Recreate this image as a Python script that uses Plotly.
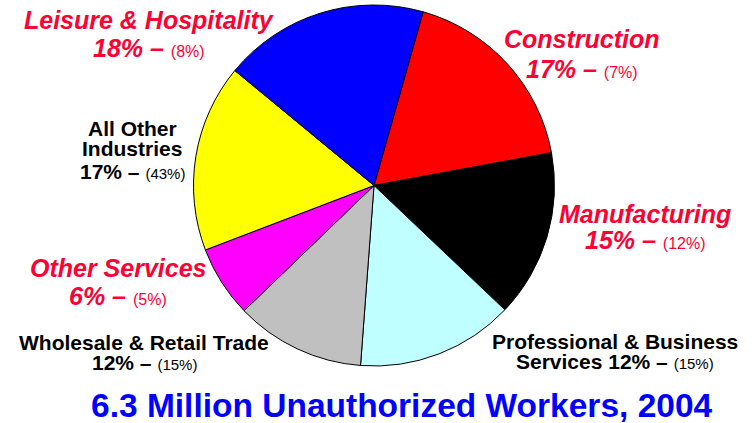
import plotly.graph_objects as go

# Data (slice shares, clockwise from the top)
industries = ["Construction", "Manufacturing", "Professional & Business Services",
              "Wholesale & Retail Trade", "Other Services", "All Other Industries",
              "Leisure & Hospitality"]
slice_share = [17.7, 15.0, 14.1, 11.6, 6.4, 16.8, 18.4]
unauth_pct = ["17%", "15%", "12%", "12%", "6%", "17%", "18%"]
all_workers_pct = ["(7%)", "(12%)", "(15%)", "(15%)", "(5%)", "(43%)", "(8%)"]
slice_colors = ["#FF0000", "#000000", "#C0FFFF", "#C0C0C0", "#FF00FF", "#FFFF00", "#0000FF"]
title_text = "6.3 Million Unauthorized Workers, 2004"

W, H = 752, 423
RED = "#FF0033"
FONT = "Liberation Sans, Arial, sans-serif"

fig = go.Figure(go.Pie(
    labels=industries, values=slice_share, sort=False, direction="clockwise",
    rotation=15.8, textinfo="none", hoverinfo="label+percent",
    marker=dict(colors=slice_colors, line=dict(color="#000000", width=1)),
    domain=dict(x=[193.5 / W, 554.5 / W], y=[1 - 366 / H, 1 - 5 / H]),
    showlegend=False,
))

def px(x, y):
    return x / W, 1 - y / H

annots = []

def add(text, x, y, size, color):
    ax, ay = px(x, y)
    annots.append(dict(text=text, x=ax, y=ay, xref="paper", yref="paper",
                       xanchor="center", yanchor="middle", showarrow=False,
                       borderpad=0,
                       font=dict(family=FONT, size=size, color=color)))

def red_label(name_lines, i, x, ys):
    for line, y in zip(name_lines, ys[:-1]):
        add(f"<b><i>{line}</i></b>", x, y, 25, RED)
    add(f"<b><i>{unauth_pct[i]} –</i></b> <span style='font-size:16px'>{all_workers_pct[i]}</span>",
        x, ys[-1], 25, RED)

def black_label(name_lines, last_prefix, i, x, ys):
    for line, y in zip(name_lines, ys[:-1]):
        add(f"<b>{line}</b>", x, y, 21, "#000000")
    add(f"<b>{last_prefix}{unauth_pct[i]} –</b> <span style='font-size:15px'>{all_workers_pct[i]}</span>",
        x, ys[-1], 21, "#000000")

red_label(["Leisure &amp; Hospitality"], 6, 149, [20, 48])
red_label(["Construction"], 0, 582, [39, 69])
red_label(["Manufacturing"], 1, 645, [214, 240])
red_label(["Other Services"], 4, 118, [268, 296])
black_label(["All Other", "Industries"], "", 5, 132, [128, 149, 171])
black_label(["Wholesale &amp; Retail Trade"], "", 3, 144, [342, 362])
black_label(["Professional &amp; Business"], "Services ", 2, 615, [341, 361])

add(f"<b>{title_text}</b>", 402, 405, 33.5, "#0000FF")

fig.update_layout(
    width=W, height=H, margin=dict(l=0, r=0, t=0, b=0),
    paper_bgcolor="white", plot_bgcolor="white",
    annotations=annots,
)

fig.write_html("out.html", config={"displayModeBar": False},
               post_script="document.body.style.margin='0';")
